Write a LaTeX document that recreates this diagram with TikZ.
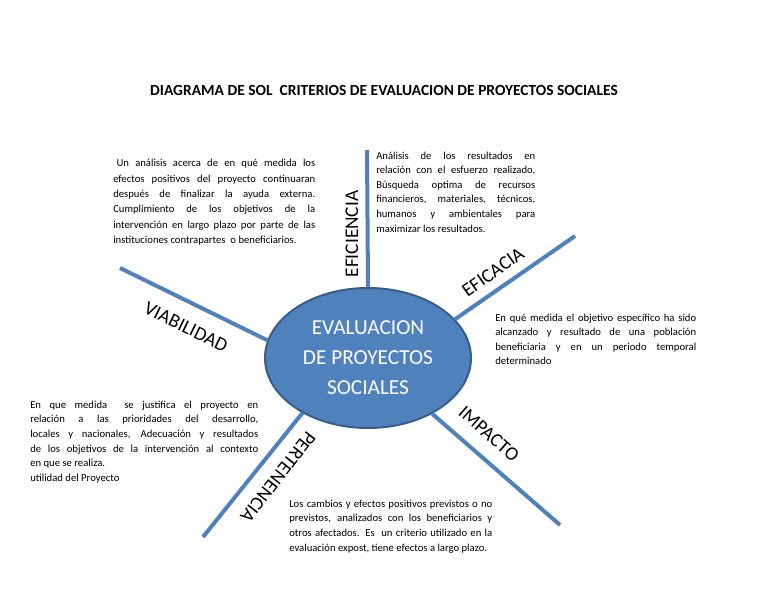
\documentclass[tikz,border=0pt]{standalone}
\usepackage{fontspec}
\setmainfont{Carlito}
\usetikzlibrary{shapes.geometric}
\definecolor{rayblue}{RGB}{79,129,189}
\definecolor{rayedge}{RGB}{56,93,138}
\tikzset{>=stealth}

\begin{document}
\begin{tikzpicture}[x=0.75pt,y=0.75pt,
        ray/.style={rayblue,line width=3pt},
        lbl/.style={font=\fontsize{14.5}{17}\selectfont,inner sep=0pt},
        txt/.style={anchor=base west,inner sep=0pt,align=justify,font=\fontsize{8}{11}\selectfont}]
        \useasboundingbox (0,0) rectangle (768,594);
        \node (title) at (384,498)[anchor=base,font=\bfseries\fontsize{11.6}{13}\selectfont]{DIAGRAMA DE SOL\ \ CRITERIOS DE EVALUACION DE PROYECTOS SOCIALES};

        % el sol
        \node (sol) at (368,236)[ellipse,draw=rayedge,line width=1.5pt,fill=rayblue,minimum width=154.5pt,minimum height=105pt,inner sep=0pt,text=white,align=center,font=\fontsize{16}{22.5}\selectfont]{EVALUACION\\DE PROYECTOS\\SOCIALES};

        % rayos
        \coordinate (eficienciaEnd) at (367,444);
        \coordinate (eficaciaEnd) at (575,358);
        \coordinate (viabilidadEnd) at (120,326);
        \coordinate (impactoEnd) at (560,69);
        \coordinate (pertenenciaEnd) at (203,57);
        \draw [ray](sol.90)--(eficienciaEnd);
        \draw [ray](sol.24.5)--(eficaciaEnd);
        \draw [ray](sol.170)--(viabilidadEnd);
        \draw [ray](sol.-41)--(impactoEnd);
        \draw [ray](sol.220)--(pertenenciaEnd);

        \node (eficiencia) at (352,360)[lbl,rotate=90]{EFICIENCIA};
        \node (eficacia) at (493,322)[lbl,rotate=35]{EFICACIA};
        \node (viabilidad) at (186,267)[lbl,rotate=-26]{VIABILIDAD};
        \node (impacto) at (489,160)[lbl,rotate=-41]{IMPACTO};
        \node (pertenencia) at (278,117)[lbl,rotate=-128]{PERTENENCIA};

        % textos
        \node (txtViabilidad) at (113,427)[txt,text width=151.5pt,font=\fontsize{8}{11.5}\selectfont]{\hspace*{2.5pt}Un análisis acerca de en qué medida los\linebreak
        efectos positivos del proyecto continuaran\linebreak
        después de finalizar la ayuda externa.\linebreak
        Cumplimiento de los objetivos de la\linebreak
        intervención en largo plazo por parte de las\linebreak
        instituciones contrapartes\ \ o beneficiarios.};
        \node (txtEficiencia) at (376,435)[txt,text width=119.25pt]{Análisis de los resultados en\linebreak
        relación con el esfuerzo realizado,\linebreak
        Búsqueda optima de recursos\linebreak
        financieros, materiales, técnicos,\linebreak
        humanos y ambientales para\linebreak
        maximizar los resultados.};
        \node (txtEficacia) at (495,273)[txt,text width=150.75pt]{En qué medida el objetivo específico ha sido\linebreak
        alcanzado y resultado de una población\linebreak
        beneficiaria y en un periodo temporal\linebreak
        determinado};
        \node (txtPertenencia) at (30,186)[txt,text width=171pt]{En que medida\ \ se justifica el proyecto en\linebreak
        relación a las prioridades del desarrollo,\linebreak
        locales y nacionales, Adecuación y resultados\linebreak
        de los objetivos de la intervención al contexto\linebreak
        en que se realiza.\\
        utilidad del Proyecto};
        \node (txtImpacto) at (289,87)[txt,text width=152.25pt]{Los cambios y efectos positivos previstos o no\linebreak
        previstos, analizados con los beneficiarios y\linebreak
        otros afectados. Es\ \ un criterio utilizado en la\linebreak
        evaluación expost, tiene efectos a largo plazo.};
\end{tikzpicture}
\end{document}
